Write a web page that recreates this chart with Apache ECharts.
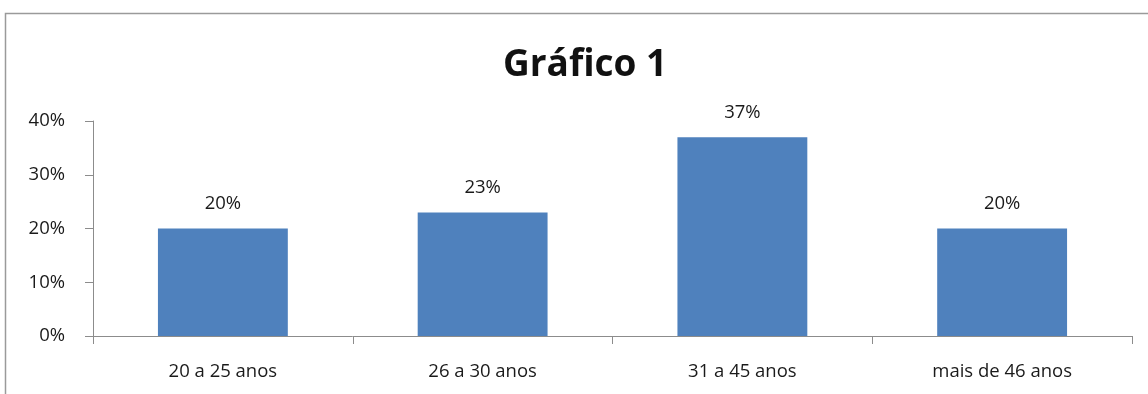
<!DOCTYPE html>
<html><head><meta charset="utf-8">
<script src="https://cdn.jsdelivr.net/npm/echarts@6/dist/echarts.min.js"></script>
<style>html,body{margin:0;padding:0;background:#fff}#c{width:1148px;height:394px}</style>
</head><body><div id="c"></div>
<script>
const categories = ['20 a 25 anos', '26 a 30 anos', '31 a 45 anos', 'mais de 46 anos'];
const values = [20, 23, 37, 20];
const yTicks = [0, 10, 20, 30, 40];
const titleText = 'Gráfico 1';

const chart = echarts.init(document.getElementById('c'), null, {renderer: 'canvas'});
const font = '"Open Sans", "Noto Sans", sans-serif';
chart.setOption({
  animation: false,
  graphic: [{
    type: 'rect', shape: {x: 5.5, y: 13.5, width: 1300, height: 500},
    style: {fill: 'none', stroke: '#9a9a9a', lineWidth: 1.5}, silent: true, z: -1
  }],
  title: {
    text: titleText, left: 498, top: 42,
    textStyle: {fontFamily: font, fontWeight: 'bold', fontSize: 37, color: '#111'}
  },
  grid: {left: 93, right: 16, top: 121, bottom: 58, containLabel: false},
  xAxis: {
    type: 'category', data: categories,
    axisLine: {lineStyle: {color: '#8c8c8c', width: 1}},
    axisTick: {show: true, length: 8, alignWithLabel: false, lineStyle: {color: '#8c8c8c'}},
    axisLabel: {fontFamily: font, fontSize: 18.5, color: '#1a1a1a', margin: 26}
  },
  yAxis: {
    type: 'value', min: yTicks[0], max: yTicks[yTicks.length - 1], interval: 10,
    axisLine: {show: true, lineStyle: {color: '#8c8c8c', width: 1}},
    axisTick: {show: true, length: 8, lineStyle: {color: '#8c8c8c'}},
    splitLine: {show: false},
    axisLabel: {fontFamily: font, fontSize: 18.5, color: '#1a1a1a', margin: 28, formatter: v => v + '%'}
  },
  series: [{
    type: 'bar', data: values, barWidth: '50%',
    itemStyle: {color: '#4f81bd'},
    label: {show: true, position: 'top', distance: 15, fontFamily: font, fontSize: 18.5, color: '#1a1a1a', formatter: p => p.value + '%'}
  }]
});
</script></body></html>
